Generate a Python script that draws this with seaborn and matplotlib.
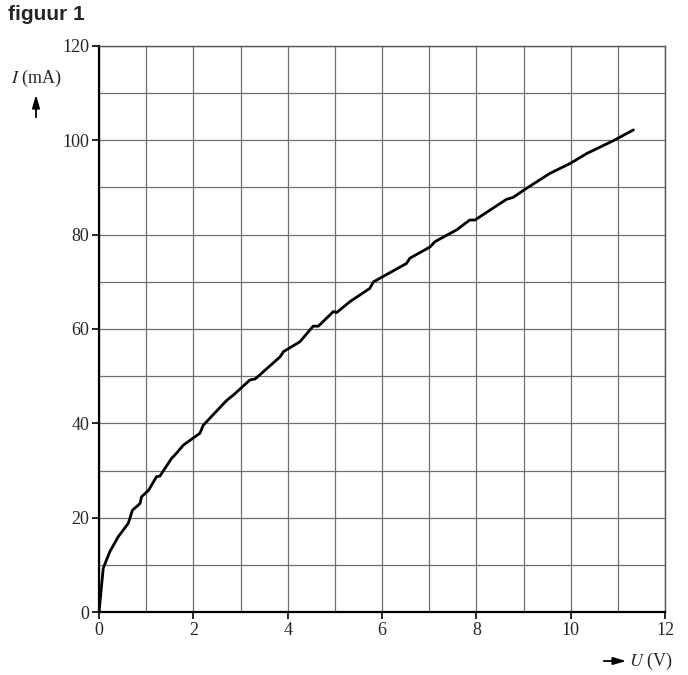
import numpy as np
import pandas as pd
import matplotlib
matplotlib.use("Agg")
import matplotlib.pyplot as plt
import seaborn as sns
from matplotlib.ticker import MultipleLocator

# values (U in V, I in mA)
u_volt = [0.00, 0.09, 0.23, 0.41, 0.62, 0.71, 0.87, 0.90, 1.05, 1.22, 1.29,
          1.54, 1.61, 1.79, 2.14, 2.21, 2.71, 2.85, 3.20, 3.31, 3.84, 3.91,
          4.26, 4.54, 4.65, 4.97, 5.04, 5.32, 5.74, 5.82, 6.52, 6.59, 7.02,
          7.12, 7.58, 7.86, 7.97, 8.29, 8.64, 8.78, 9.03, 9.56, 9.99, 10.34,
          10.90, 11.33]
i_milliamp = [0.0, 9.3, 12.8, 16.0, 18.8, 21.6, 23.0, 24.4, 25.8, 28.7, 28.8,
              32.6, 33.3, 35.4, 37.9, 39.6, 44.9, 46.0, 49.2, 49.4, 54.1, 55.2,
              57.3, 60.6, 60.6, 63.7, 63.5, 65.8, 68.6, 70.0, 73.9, 75.0, 77.4,
              78.5, 81.0, 83.1, 83.1, 85.2, 87.5, 87.9, 89.6, 93.0, 95.1, 97.2,
              99.9, 102.2]

df = pd.DataFrame({"U": u_volt, "I": i_milliamp})

sns.set_style("white")
plt.rcParams["font.family"] = ["Liberation Serif", "DejaVu Serif"]
plt.rcParams["mathtext.fontset"] = "stix"

fig = plt.figure(figsize=(6.88, 6.75), dpi=100)
ax = fig.add_axes([0.1439, 0.0933, 0.8227, 0.8386])

sns.lineplot(data=df, x="U", y="I", sort=False, estimator=None,
             color="black", linewidth=2.0, ax=ax)

ax.set_xlim(0, 12)
ax.set_ylim(0, 120)
ax.xaxis.set_major_locator(MultipleLocator(2))
ax.xaxis.set_minor_locator(MultipleLocator(1))
ax.yaxis.set_major_locator(MultipleLocator(20))
ax.yaxis.set_minor_locator(MultipleLocator(10))
ax.grid(True, which="both", color="#707070", linewidth=0.9)
ax.set_axisbelow(True)
ax.tick_params(which="major", direction="out", length=5, width=1.2,
               color="black", labelsize=13, pad=2)
ax.tick_params(which="minor", length=0)
ax.tick_params(bottom=True, left=True)
ax.set_xlabel("")
ax.set_ylabel("")

for side in ["left", "bottom"]:
    ax.spines[side].set_color("black")
    ax.spines[side].set_linewidth(1.6)
for side in ["top", "right"]:
    ax.spines[side].set_color("#555555")
    ax.spines[side].set_linewidth(1.0)

arrow = "-|>,head_length=0.55,head_width=0.16"
fig.text(8 / 688, 1 - 15 / 675, "figuur 1", fontsize=15, fontweight="bold",
         family=["Liberation Sans", "DejaVu Sans"], ha="left", va="center")
fig.text(36 / 688, 1 - 78 / 675, r"$I$ (mA)", fontsize=13, ha="center",
         va="center")
fig.add_artist(matplotlib.patches.FancyArrowPatch(
    (36 / 688, 1 - 120 / 675), (36 / 688, 1 - 92 / 675),
    transform=fig.transFigure, arrowstyle=arrow,
    mutation_scale=14, color="black", linewidth=1.3))
fig.add_artist(matplotlib.patches.FancyArrowPatch(
    (601 / 688, 1 - 661 / 675), (629 / 688, 1 - 661 / 675),
    transform=fig.transFigure, arrowstyle=arrow,
    mutation_scale=14, color="black", linewidth=1.3))
fig.text(629 / 688, 1 - 661 / 675, r"$U$ (V)", fontsize=13, ha="left",
         va="center")

fig.savefig("out.png", dpi=100)
